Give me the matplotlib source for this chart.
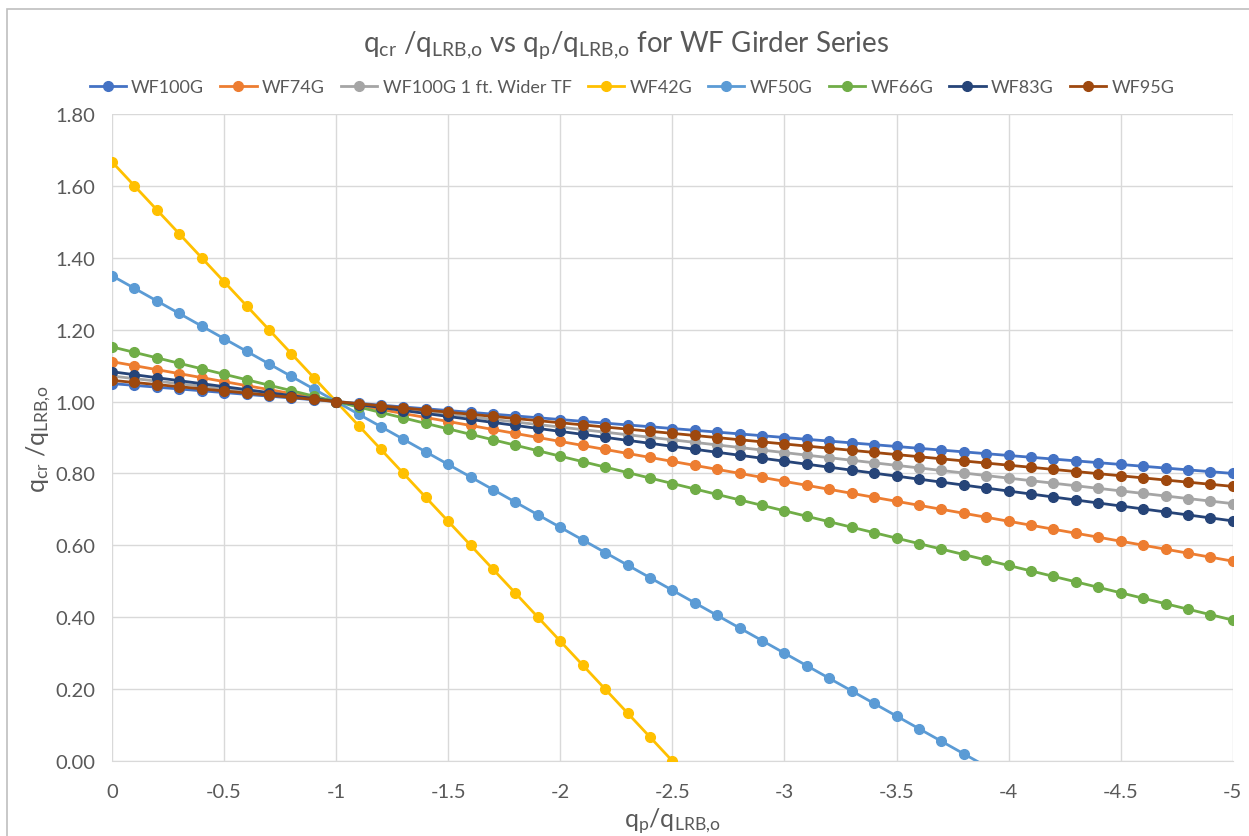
import numpy as np
import matplotlib
matplotlib.use("Agg")
import matplotlib.pyplot as plt
from matplotlib.patches import Rectangle

plt.rcParams['font.family'] = ['Lato', 'DejaVu Sans']
plt.rcParams['mathtext.fontset'] = 'custom'
plt.rcParams['mathtext.rm'] = 'Lato'
plt.rcParams['mathtext.it'] = 'Lato:italic'

# data
x_vals = [0, -0.1, -0.2, -0.3, -0.4, -0.5, -0.6, -0.7, -0.8, -0.9,
          -1.0, -1.1, -1.2, -1.3, -1.4, -1.5, -1.6, -1.7, -1.8, -1.9,
          -2.0, -2.1, -2.2, -2.3, -2.4, -2.5, -2.6, -2.7, -2.8, -2.9,
          -3.0, -3.1, -3.2, -3.3, -3.4, -3.5, -3.6, -3.7, -3.8, -3.9,
          -4.0, -4.1, -4.2, -4.3, -4.4, -4.5, -4.6, -4.7, -4.8, -4.9, -5.0]

wf100g = [1.05, 1.045, 1.04, 1.035, 1.03, 1.025, 1.02, 1.015, 1.01, 1.005,
          1.0, 0.995, 0.99, 0.985, 0.98, 0.975, 0.97, 0.965, 0.96, 0.955,
          0.95, 0.945, 0.94, 0.935, 0.93, 0.925, 0.92, 0.915, 0.91, 0.905,
          0.9, 0.895, 0.89, 0.885, 0.88, 0.875, 0.87, 0.865, 0.86, 0.855,
          0.85, 0.845, 0.84, 0.835, 0.83, 0.825, 0.82, 0.815, 0.81, 0.805, 0.8]

wf74g = [1.111, 1.0999, 1.0888, 1.0777, 1.0666, 1.0555, 1.0444, 1.0333, 1.0222, 1.0111,
         1.0, 0.9889, 0.9778, 0.9667, 0.9556, 0.9445, 0.9334, 0.9223, 0.9112, 0.9001,
         0.889, 0.8779, 0.8668, 0.8557, 0.8446, 0.8335, 0.8224, 0.8113, 0.8002, 0.7891,
         0.778, 0.7669, 0.7558, 0.7447, 0.7336, 0.7225, 0.7114, 0.7003, 0.6892, 0.6781,
         0.667, 0.6559, 0.6448, 0.6337, 0.6226, 0.6115, 0.6004, 0.5893, 0.5782, 0.5671, 0.556]

wf100g_wide = [1.071, 1.0639, 1.0568, 1.0497, 1.0426, 1.0355, 1.0284, 1.0213, 1.0142, 1.0071,
               1.0, 0.9929, 0.9858, 0.9787, 0.9716, 0.9645, 0.9574, 0.9503, 0.9432, 0.9361,
               0.929, 0.9219, 0.9148, 0.9077, 0.9006, 0.8935, 0.8864, 0.8793, 0.8722, 0.8651,
               0.858, 0.8509, 0.8438, 0.8367, 0.8296, 0.8225, 0.8154, 0.8083, 0.8012, 0.7941,
               0.787, 0.7799, 0.7728, 0.7657, 0.7586, 0.7515, 0.7444, 0.7373, 0.7302, 0.7231, 0.716]

wf42g = [1.6667, 1.6, 1.5333, 1.4667, 1.4, 1.3333, 1.2667, 1.2, 1.1333, 1.0667,
         1.0, 0.9333, 0.8667, 0.8, 0.7333, 0.6667, 0.6, 0.5333, 0.4667, 0.4,
         0.3333, 0.2667, 0.2, 0.1333, 0.0667, 0.0]

wf50g = [1.35, 1.315, 1.28, 1.245, 1.21, 1.175, 1.14, 1.105, 1.07, 1.035,
         1.0, 0.965, 0.93, 0.895, 0.86, 0.825, 0.79, 0.755, 0.72, 0.685,
         0.65, 0.615, 0.58, 0.545, 0.51, 0.475, 0.44, 0.405, 0.37, 0.335,
         0.3, 0.265, 0.23, 0.195, 0.16, 0.125, 0.09, 0.055, 0.02, -0.015]

wf66g = [1.152, 1.1368, 1.1216, 1.1064, 1.0912, 1.076, 1.0608, 1.0456, 1.0304, 1.0152,
         1.0, 0.9848, 0.9696, 0.9544, 0.9392, 0.924, 0.9088, 0.8936, 0.8784, 0.8632,
         0.848, 0.8328, 0.8176, 0.8024, 0.7872, 0.772, 0.7568, 0.7416, 0.7264, 0.7112,
         0.696, 0.6808, 0.6656, 0.6504, 0.6352, 0.62, 0.6048, 0.5896, 0.5744, 0.5592,
         0.544, 0.5288, 0.5136, 0.4984, 0.4832, 0.468, 0.4528, 0.4376, 0.4224, 0.4072, 0.392]

wf83g = [1.083, 1.0747, 1.0664, 1.0581, 1.0498, 1.0415, 1.0332, 1.0249, 1.0166, 1.0083,
         1.0, 0.9917, 0.9834, 0.9751, 0.9668, 0.9585, 0.9502, 0.9419, 0.9336, 0.9253,
         0.917, 0.9087, 0.9004, 0.8921, 0.8838, 0.8755, 0.8672, 0.8589, 0.8506, 0.8423,
         0.834, 0.8257, 0.8174, 0.8091, 0.8008, 0.7925, 0.7842, 0.7759, 0.7676, 0.7593,
         0.751, 0.7427, 0.7344, 0.7261, 0.7178, 0.7095, 0.7012, 0.6929, 0.6846, 0.6763, 0.668]

wf95g = [1.059, 1.0531, 1.0472, 1.0413, 1.0354, 1.0295, 1.0236, 1.0177, 1.0118, 1.0059,
         1.0, 0.9941, 0.9882, 0.9823, 0.9764, 0.9705, 0.9646, 0.9587, 0.9528, 0.9469,
         0.941, 0.9351, 0.9292, 0.9233, 0.9174, 0.9115, 0.9056, 0.8997, 0.8938, 0.8879,
         0.882, 0.8761, 0.8702, 0.8643, 0.8584, 0.8525, 0.8466, 0.8407, 0.8348, 0.8289,
         0.823, 0.8171, 0.8112, 0.8053, 0.7994, 0.7935, 0.7876, 0.7817, 0.7758, 0.7699, 0.764]

names = ['WF100G', 'WF74G', 'WF100G 1 ft. Wider TF', 'WF42G',
         'WF50G', 'WF66G', 'WF83G', 'WF95G']
series = [wf100g, wf74g, wf100g_wide, wf42g, wf50g, wf66g, wf83g, wf95g]
colors = ['#4472C4', '#ED7D31', '#A5A5A5', '#FFC000',
          '#5B9BD5', '#70AD47', '#264478', '#9E480E']

x_ticks = [0, -0.5, -1, -1.5, -2, -2.5, -3, -3.5, -4, -4.5, -5]
x_ticklabels = ['0', '-0.5', '-1', '-1.5', '-2', '-2.5', '-3', '-3.5', '-4', '-4.5', '-5']
y_ticks = [0, 0.2, 0.4, 0.6, 0.8, 1.0, 1.2, 1.4, 1.6, 1.8]

fig = plt.figure(figsize=(12.49, 8.37), dpi=100)
ax = fig.add_axes([0.0897, 0.0896, 0.8973, 0.773])

for name, ys, c in zip(names, series, colors):
    ys = np.array(ys)
    xs = np.array(x_vals[:len(ys)])
    # no markers for points below the axis
    ax.plot(xs, ys, color=c, lw=2.0, marker='o', ms=7,
            markevery=list(np.where(ys >= 0)[0]), label=name, zorder=3)

ax.set_xlim(0, -5)
ax.set_ylim(0, 1.8)
ax.set_xticks(x_ticks)
ax.set_xticklabels(x_ticklabels)
ax.set_yticks(y_ticks)
ax.set_yticklabels(['%.2f' % v for v in y_ticks])
ax.tick_params(length=0, labelsize=14.5, colors='#595959')
ax.tick_params(axis='x', pad=16)
ax.tick_params(axis='y', pad=12)
ax.grid(True, color='#D9D9D9', lw=1)
ax.set_axisbelow(True)
for s in ['top', 'right', 'left']:
    ax.spines[s].set_visible(False)
ax.spines['bottom'].set_color('#D9D9D9')

ax.set_xlabel(r'q$_{\rm p}$/q$_{\rm LRB{,}o}$', fontsize=18, color='#595959', labelpad=4)
ax.set_ylabel(r'q$_{\rm cr}$ /q$_{\rm LRB{,}o}$', fontsize=18, color='#595959', labelpad=2)

fig.text(0.501, 0.946,
         r'q$_{\rm cr}$ /q$_{\rm LRB{,}o}$ vs q$_{\rm p}$/q$_{\rm LRB{,}o}$ for WF Girder Series',
         ha='center', va='center', fontsize=20, color='#595959')

fig.legend(loc='center', bbox_to_anchor=(0.506, 0.895), ncol=8, frameon=False,
           fontsize=13, handlelength=2.0, handletextpad=0.3, columnspacing=0.9,
           labelcolor='#595959')

fig.patches.append(Rectangle((7 / 1249, -0.05), 1.1, 1.05 - 10 / 837,
                             transform=fig.transFigure, fill=False,
                             edgecolor='#BFBFBF', lw=1.2))

fig.savefig('out.png', dpi=100)
